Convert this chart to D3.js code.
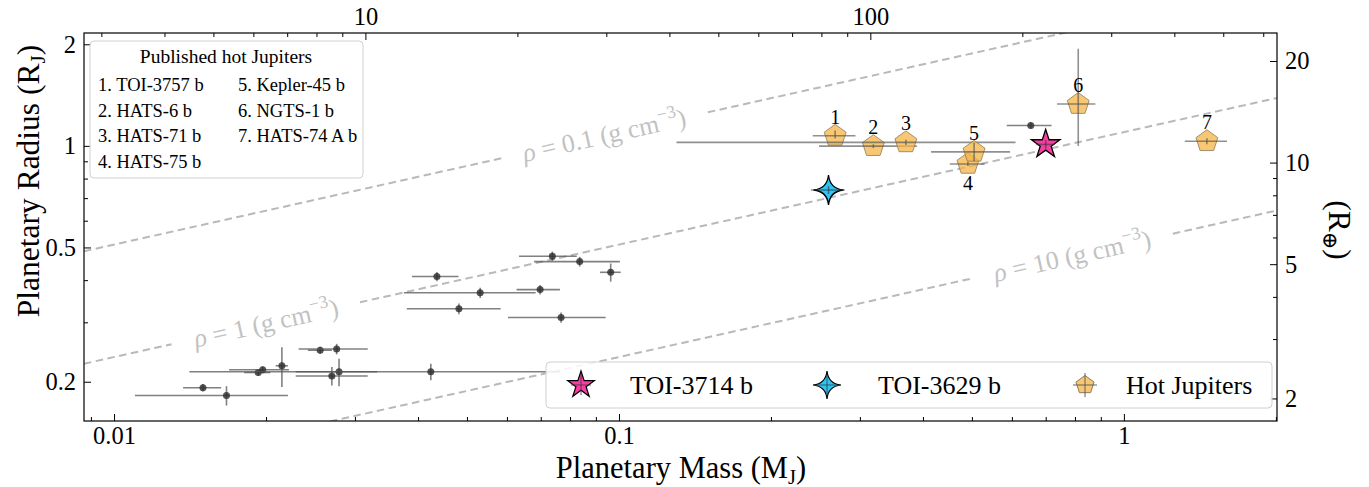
<!DOCTYPE html>
<html><head><meta charset="utf-8">
<script src="https://cdn.jsdelivr.net/npm/d3@7"></script>
<style>
body{margin:0;background:#fff}
svg{display:block}
text{font-family:"Liberation Serif","Times New Roman","DejaVu Serif",serif}
</style>
</head><body>
<svg id="c" width="1369" height="487"></svg>
<script>
// ---------------- DATA ----------------
// small planets (grey points)
const smallM     = [0.0150,0.0167,0.0193,0.0197,0.0215,0.0256,0.0276,0.0270,0.0279,0.0424,0.0436,0.0531,0.0482,0.0698,0.0738,0.0836,0.0963,0.0768,0.654];
const smallMLo   = [0.0013,0.0057,0.0012,0.0028,0.0006,0.0014,0.0044,0.0041,0.0050,0.0283,0.0047,0.0156,0.0102,0.0071,0.0104,0.0157,0.0046,0.0165,0.068];
const smallMHi   = [0.0013,0.0054,0.0011,0.0025,0.0006,0.0014,0.0042,0.0048,0.0053,0.0340,0.0045,0.0153,0.0101,0.0066,0.0087,0.0168,0.0045,0.0173,0.065];
const smallR     = [0.192,0.182,0.213,0.217,0.223,0.248,0.250,0.208,0.214,0.214,0.410,0.367,0.329,0.375,0.471,0.454,0.422,0.310,1.149];
const smallRErr  = [0.005,0.012,0.005,0.005,0.030,0.006,0.009,0.013,0.020,0.012,0.013,0.013,0.012,0.012,0.015,0.015,0.026,0.011,0.025];

// published hot Jupiters
const hjNames = ["TOI-3757 b","HATS-6 b","HATS-71 b","HATS-75 b","Kepler-45 b","NGTS-1 b","HATS-74 A b"];
const hjM     = [0.268,0.319,0.370,0.491,0.505,0.812,1.46];
const hjMLo   = [0.026,0.070,0.240,0.039,0.090,0.075,0.14];
const hjMHi   = [0.026,0.070,0.240,0.039,0.090,0.066,0.14];
const hjR     = [1.071,0.998,1.024,0.884,0.960,1.33,1.032];
const hjRLo   = [0.020,0.013,0.018,0.013,0.060,0.33,0.021];
const hjRHi   = [0.040,0.013,0.018,0.013,0.060,0.61,0.021];
const hjLabelBelow = [false,false,false,true,false,false,false];

// highlighted planets
const toi3714 = {name:"TOI-3714 b", m:0.70, mErr:0.03, r:1.01, rErr:0.03};
const toi3629 = {name:"TOI-3629 b", m:0.26, mErr:0.02, r:0.74, rErr:0.02};

// density curves
const rhoValues = [0.1, 1, 10];
const rhoText   = ["0.1","1","10"];

// tick values
const xMajor = [0.01,0.1,1], xMajorLabels=["0.01","0.1","1"];
const xMinor = [0.009,0.02,0.03,0.04,0.05,0.06,0.07,0.08,0.09,0.2,0.3,0.4,0.5,0.6,0.7,0.8,0.9,2];
const yMajor = [0.2,0.5,1,2], yMajorLabels=["0.2","0.5","1","2"];
const yMinor = [0.3,0.4,0.6,0.7,0.8,0.9];
const topMajor = [10,100], topMajorLabels=["10","100"];
const topMinor = [3,4,5,6,7,8,9,20,30,40,50,60,70,80,90,200,300,400,500,600];
const rightMajor = [2,5,10,20], rightMajorLabels=["2","5","10","20"];
const rightMinor = [3,4,6,7,8,9];

// ---------------- LAYOUT ----------------
const L=84, R=1277, T=33, B=421;
const MJ_ME=317.83, RJ_RE=11.209, RHO_J=1.326;
const svg=d3.select("#c");
const x=d3.scaleLog().domain([0.00872,2.01]).range([L,R]);
const y=d3.scaleLog().domain([0.153,2.16]).range([B,T]);
const xE=d3.scaleLog().domain(x.domain().map(d=>d*MJ_ME)).range([L,R]);
const yE=d3.scaleLog().domain(y.domain().map(d=>d*RJ_RE)).range([B,T]);

svg.append("defs").append("clipPath").attr("id","clip")
  .append("rect").attr("x",L).attr("y",T).attr("width",R-L).attr("height",B-T);
const plot=svg.append("g").attr("clip-path","url(#clip)");

// ---------------- DENSITY LINES ----------------
const rad=(m,rho)=>Math.cbrt(m*RHO_J/rho);
const rhoLabelAt=[0.0935,0.0200,0.790];
const rhoGap=[[0.0590,0.150],[0.01300,0.0307],[0.500,1.25]];
rhoValues.forEach((rho,i)=>{
  const segs=[[x.domain()[0],rhoGap[i][0]],[rhoGap[i][1],x.domain()[1]]];
  segs.forEach(s=>{
    plot.append("line")
      .attr("x1",x(s[0])).attr("y1",y(rad(s[0],rho)))
      .attr("x2",x(s[1])).attr("y2",y(rad(s[1],rho)))
      .attr("stroke","#b9b9b9").attr("stroke-width",2).attr("stroke-dasharray","7.5,4.5");
  });
  const mc=rhoLabelAt[i];
  const px=x(mc), py=y(rad(mc,rho));
  const ang=Math.atan2(y(rad(mc*2,rho))-py, x(mc*2)-px)*180/Math.PI;
  const t=svg.append("text")
    .attr("transform",`translate(${px},${py}) rotate(${ang})`)
    .attr("text-anchor","middle").attr("dy","0.33em")
    .attr("fill","#c2c2c2").attr("font-size",26);
  t.append("tspan").attr("font-style","italic").text("ρ");
  t.append("tspan").text(" = "+rhoText[i]+" (g cm");
  t.append("tspan").attr("dy",-11).attr("font-size",18).text("−3");
  t.append("tspan").attr("dy",11).text(")");
});

// ---------------- SMALL PLANETS ----------------
const barCol="#555";
smallM.forEach((m,i)=>{
  plot.append("line").attr("x1",x(m-smallMLo[i])).attr("x2",x(m+smallMHi[i]))
    .attr("y1",y(smallR[i])).attr("y2",y(smallR[i]))
    .attr("stroke",barCol).attr("stroke-opacity",0.75).attr("stroke-width",1.6);
  plot.append("line").attr("x1",x(m)).attr("x2",x(m))
    .attr("y1",y(smallR[i]-smallRErr[i])).attr("y2",y(smallR[i]+smallRErr[i]))
    .attr("stroke",barCol).attr("stroke-opacity",0.75).attr("stroke-width",1.6);
  plot.append("circle").attr("cx",x(m)).attr("cy",y(smallR[i])).attr("r",3.5)
    .attr("fill","#2a2a2a").attr("fill-opacity",0.8);
});

// ---------------- MARKER SHAPES ----------------
function pentagon(r){
  const p=d3.range(5).map(k=>{const a=-Math.PI/2+k*2*Math.PI/5;return [r*Math.cos(a),r*Math.sin(a)];});
  return "M"+p.map(d=>d.join(",")).join("L")+"Z";
}
function star5(r){
  const ri=r*0.381966;
  const p=d3.range(10).map(k=>{const a=-Math.PI/2+k*Math.PI/5;const rr=k%2?ri:r;return [rr*Math.cos(a),rr*Math.sin(a)];});
  return "M"+p.map(d=>d.join(",")).join("L")+"Z";
}
function star4(r){
  const c=r*0.09;
  return `M0,${-r}Q${c},${-c} ${r},0Q${c},${c} 0,${r}Q${-c},${c} ${-r},0Q${-c},${-c} 0,${-r}Z`;
}
const hjFill="#f6b445", hjStroke="#8f7a5a";

// ---------------- HOT JUPITERS ----------------
hjM.forEach((m,i)=>{
  const cx=x(m), cy=y(hjR[i]);
  plot.append("path").attr("d",pentagon(11.5)).attr("transform",`translate(${cx},${cy})`)
    .attr("fill",hjFill).attr("fill-opacity",0.75).attr("stroke",hjStroke).attr("stroke-opacity",0.8).attr("stroke-width",1);
  plot.append("line").attr("x1",x(m-hjMLo[i])).attr("x2",x(m+hjMHi[i])).attr("y1",cy).attr("y2",cy)
    .attr("stroke","#555").attr("stroke-opacity",0.65).attr("stroke-width",1.6);
  plot.append("line").attr("x1",cx).attr("x2",cx).attr("y1",y(hjR[i]-hjRLo[i])).attr("y2",y(hjR[i]+hjRHi[i]))
    .attr("stroke","#555").attr("stroke-opacity",0.65).attr("stroke-width",1.6);
  svg.append("text").attr("x",cx).attr("y",cy+(hjLabelBelow[i]?19:-19)).attr("dy","0.35em")
    .attr("text-anchor","middle").attr("font-size",20).attr("fill","#000").text(i+1);
});

// ---------------- HIGHLIGHTED ----------------
function highlight(p,shape,fill){
  const cx=x(p.m), cy=y(p.r);
  plot.append("path").attr("d",shape).attr("transform",`translate(${cx},${cy})`)
    .attr("fill",fill).attr("stroke","#000").attr("stroke-width",1.3);
  plot.append("line").attr("x1",x(p.m-p.mErr)).attr("x2",x(p.m+p.mErr)).attr("y1",cy).attr("y2",cy)
    .attr("stroke","#333").attr("stroke-opacity",0.55).attr("stroke-width",1.6);
  plot.append("line").attr("x1",cx).attr("x2",cx).attr("y1",y(p.r-p.rErr)).attr("y2",y(p.r+p.rErr))
    .attr("stroke","#333").attr("stroke-opacity",0.55).attr("stroke-width",1.6);
}
const pink="#f83ea4", blue="#2fc4f4";
highlight(toi3629,star4(15),blue);
highlight(toi3714,star5(15),pink);

// ---------------- FRAME & AXES ----------------
svg.append("rect").attr("x",L).attr("y",T).attr("width",R-L).attr("height",B-T)
  .attr("fill","none").attr("stroke","#000").attr("stroke-width",1.2);

function drawTicks(orient,scale,major,labels,minor,pad){
  const mk={bottom:d3.axisBottom,top:d3.axisTop,left:d3.axisLeft,right:d3.axisRight}[orient];
  const pos={bottom:`translate(0,${B})`,top:`translate(0,${T})`,left:`translate(${L},0)`,right:`translate(${R},0)`}[orient];
  const gMin=svg.append("g").attr("transform",pos)
    .call(mk(scale).tickValues(minor).tickSize(-4).tickFormat(""));
  gMin.select(".domain").remove();
  const gMaj=svg.append("g").attr("transform",pos)
    .call(mk(scale).tickValues(major).tickSize(-7).tickPadding(pad).tickFormat((d,i)=>labels[i]));
  gMaj.select(".domain").remove();
  gMaj.selectAll("text").attr("font-size",24.5).attr("font-family","Liberation Serif, serif").attr("fill","#000");
  svg.selectAll("g.tick line").attr("stroke","#000").attr("stroke-width",1);
  return gMaj;
}
drawTicks("bottom",x,xMajor,xMajorLabels,xMinor,6);
drawTicks("top",xE,topMajor,topMajorLabels,topMinor,8);
drawTicks("left",y,yMajor,yMajorLabels,yMinor,8);
drawTicks("right",yE,rightMajor,rightMajorLabels,rightMinor,8);

// axis titles
const xt=svg.append("text").attr("x",681).attr("y",478).attr("text-anchor","middle").attr("font-size",30.5);
xt.append("tspan").text("Planetary Mass (M");
xt.append("tspan").attr("font-size",20.5).attr("dy",6).text("J");
xt.append("tspan").attr("dy",-6).text(")");

const yt=svg.append("text").attr("transform",`translate(39,181) rotate(-90)`).attr("text-anchor","middle").attr("font-size",31.5);
yt.append("tspan").text("Planetary Radius (R");
yt.append("tspan").attr("font-size",21).attr("dy",6).text("J");
yt.append("tspan").attr("dy",-6).text(")");

const rt=svg.append("text").attr("transform",`translate(1329,230) rotate(90)`).attr("text-anchor","middle").attr("font-size",31.5);
rt.append("tspan").text("(R");
rt.append("tspan").attr("font-size",21).attr("dy",6).attr("font-family","DejaVu Serif, serif").text("⊕");
rt.append("tspan").attr("dy",-6).text(")");

// ---------------- LEGENDS ----------------
svg.append("rect").attr("x",90).attr("y",41).attr("width",273).attr("height",137).attr("rx",4)
  .attr("fill","#fff").attr("fill-opacity",0.85).attr("stroke","#d0d0d0").attr("stroke-width",1);
svg.append("text").attr("x",226).attr("y",63).attr("text-anchor","middle").attr("font-size",19.5).text("Published hot Jupiters");
hjNames.forEach((n,i)=>{
  const col=i<4?0:1, row=i<4?i:i-4;
  svg.append("text").attr("x",col?238:98).attr("y",91+row*25.5).attr("font-size",18.5).text((i+1)+". "+n);
});

svg.append("rect").attr("x",546).attr("y",362).attr("width",726).attr("height",46).attr("rx",4)
  .attr("fill","#fff").attr("fill-opacity",0.85).attr("stroke","#d0d0d0").attr("stroke-width",1);
const ly=385;
function legItem(mx,tx,label,drawFn){
  const g=svg.append("g").attr("transform",`translate(${mx},${ly})`);
  drawFn(g);
  svg.append("text").attr("x",tx).attr("y",ly).attr("dy","0.35em").attr("font-size",26).text(label);
}
legItem(581,630,toi3714.name,g=>{
  g.append("path").attr("d",star5(14)).attr("fill",pink).attr("stroke","#000").attr("stroke-width",1.2);
  g.append("line").attr("x1",-10).attr("x2",10).attr("stroke","#333").attr("stroke-opacity",0.5).attr("stroke-width",1.5);
  g.append("line").attr("y1",-10).attr("y2",10).attr("stroke","#333").attr("stroke-opacity",0.5).attr("stroke-width",1.5);
});
legItem(827,878,toi3629.name,g=>{
  g.append("path").attr("d",star4(14)).attr("fill",blue).attr("stroke","#000").attr("stroke-width",1.2);
  g.append("line").attr("x1",-10).attr("x2",10).attr("stroke","#333").attr("stroke-opacity",0.5).attr("stroke-width",1.5);
  g.append("line").attr("y1",-10).attr("y2",10).attr("stroke","#333").attr("stroke-opacity",0.5).attr("stroke-width",1.5);
});
legItem(1085,1126,"Hot Jupiters",g=>{
  g.append("path").attr("d",pentagon(9.5)).attr("fill",hjFill).attr("fill-opacity",0.75).attr("stroke",hjStroke).attr("stroke-width",1);
  g.append("line").attr("x1",-12).attr("x2",12).attr("stroke","#555").attr("stroke-opacity",0.6).attr("stroke-width",1.5);
  g.append("line").attr("y1",-12).attr("y2",12).attr("stroke","#555").attr("stroke-opacity",0.6).attr("stroke-width",1.5);
});
</script>
</body></html>
